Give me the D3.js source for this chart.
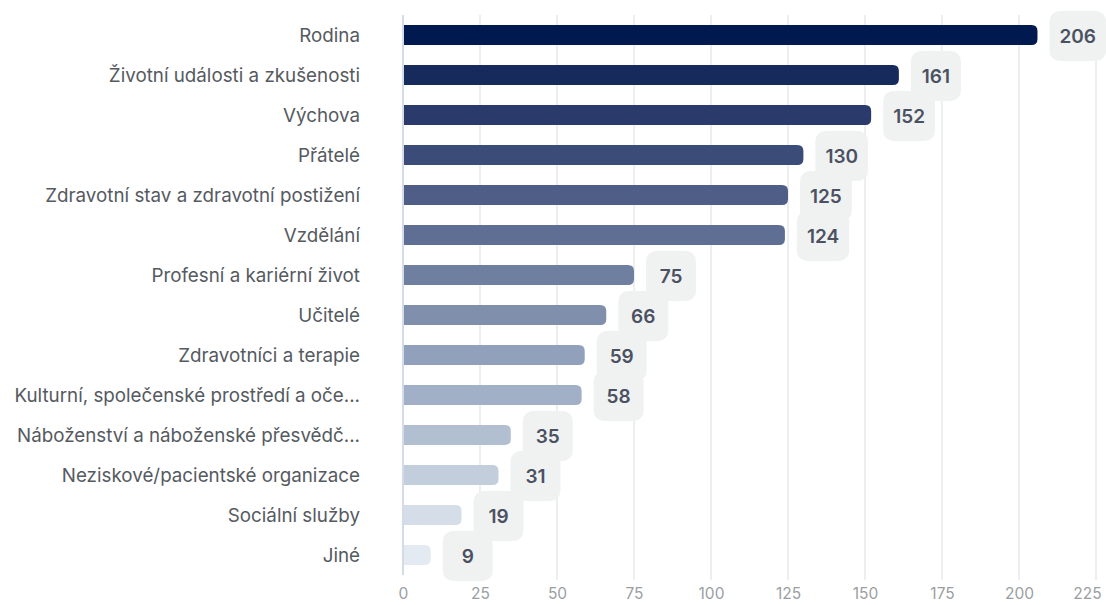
<!DOCTYPE html>
<html><head><meta charset="utf-8">
<script src="https://cdn.jsdelivr.net/npm/d3@7"></script>
<style>body{margin:0;background:#fff}svg{display:block}</style>
</head><body><svg id="c" width="1106" height="605"></svg>
<script>
const categories = ["Rodina","Životní události a zkušenosti","Výchova","Přátelé","Zdravotní stav a zdravotní postižení","Vzdělání","Profesní a kariérní život","Učitelé","Zdravotníci a terapie","Kulturní, společenské prostředí a oče...","Náboženství a náboženské přesvědč...","Neziskové/pacientské organizace","Sociální služby","Jiné"];
const values = [206,161,152,130,125,124,75,66,59,58,35,31,19,9];
const tickValues = [0,25,50,75,100,125,150,175,200,225];
const barColors = ["#001a4f","#172a5c","#2a3b6b","#3c4c79","#4e5e87","#5f6f94","#6f7f9f","#8090ac","#91a1bb","#a1b0c7","#b1bfd1","#c2cedc","#d4dde8","#e4eaf2"];

const svg = d3.select("#c");
const font = "Inter, 'Noto Sans', sans-serif";
const x = d3.scaleLinear().domain([0,225]).range([403,1096]);
const y = d3.scaleBand().domain(categories).range([15,575]).paddingInner(0.5).paddingOuter(0.25);

// grid
svg.append("g").selectAll("line").data(tickValues.slice(1)).join("line")
  .attr("x1",d=>x(d)).attr("x2",d=>x(d)).attr("y1",15).attr("y2",580)
  .attr("stroke","#e8e9eb").attr("stroke-width",1.5);

// x axis labels
const xa = svg.append("g").attr("transform","translate(0,580)")
  .call(d3.axisBottom(x).tickValues(tickValues).tickSize(0).tickPadding(8));
xa.select(".domain").remove();
xa.selectAll("text").attr("fill","#9a9ea3").style("font-family",font).style("font-size","15.5px");
xa.selectAll(".tick").filter(d=>d===225).select("text").attr("dx",-9);

// y labels
const ya = svg.append("g").attr("transform","translate(360,1)")
  .call(d3.axisLeft(y).tickSize(0).tickPadding(0));
ya.select(".domain").remove();
ya.selectAll("text").attr("fill","#555a5f").style("font-family",font).style("font-size","18.8px");

// bars: square left, rounded right
const r = 6;
function barPath(x0,x1,y0,h){
  const rr = Math.min(r,(x1-x0));
  return `M${x0},${y0}H${x1-rr}Q${x1},${y0} ${x1},${y0+rr}V${y0+h-rr}Q${x1},${y0+h} ${x1-rr},${y0+h}H${x0}Z`;
}
svg.append("g").selectAll("path").data(categories).join("path")
  .attr("d",(d,i)=>barPath(x(0),x(values[i]),y(d),y.bandwidth()))
  .attr("fill",(d,i)=>barColors[i]);

// axis line
svg.append("line").attr("x1",x(0)).attr("x2",x(0)).attr("y1",15).attr("y2",575)
  .attr("stroke","#d3daea").attr("stroke-width",2);

// value labels
const lg = svg.append("g").selectAll("g").data(categories).join("g");
lg.each(function(d,i){
  const g = d3.select(this);
  const cy = y(d)+y.bandwidth()/2;
  const t = g.append("text").text(values[i]).attr("fill","#4b5163")
    .style("font-family",font).style("font-size","19px").style("font-weight","600")
    .attr("text-anchor","middle").attr("dy","0.35em");
  const tw = t.node().getComputedTextLength();
  const w = Math.max(50, tw+20);
  const bx = x(values[i])+12;
  g.insert("rect","text").attr("x",bx).attr("y",cy-24).attr("width",w).attr("height",50)
    .attr("rx",10).attr("fill","#f0f1f1");
  t.attr("x",bx+w/2).attr("y",cy+1);
});
</script></body></html>
